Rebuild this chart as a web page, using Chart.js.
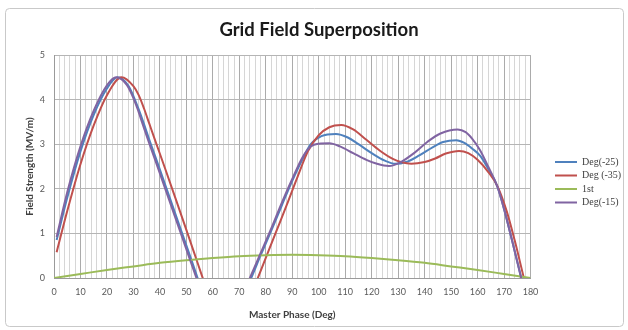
<!DOCTYPE html>
<html><head><meta charset="utf-8">
<script src="https://cdn.jsdelivr.net/npm/chart.js@4.4.1/dist/chart.umd.min.js"></script>
<style>html,body{margin:0;padding:0;background:#fff;}canvas{display:block;}</style>
</head><body>
<canvas id="c" width="628" height="330"></canvas>
<script>
// ---- data ----
const chartTitle = 'Grid Field Superposition';
const xAxisTitle = 'Master Phase (Deg)';
const yAxisTitle = 'Field Strength (MV/m)';
const seriesNames = ['Deg(-25)', 'Deg (-35)', '1st', 'Deg(-15)'];
const xTickLabels = [0,10,20,30,40,50,60,70,80,90,100,110,120,130,140,150,160,170,180];
const yTickLabels = [0,1,2,3,4,5];

const blueX = [1,5,10,15,20,24,28,30,32,34,36,40,44,48,52,55.5,null,73,74.5,78,82,86,90,94,97,101,106.5,111,115,120,125,129,133,138,143,147,152,155,158,161,164,167.5,170,173,176.5,178];
const blueY = [0.85,1.8,2.84,3.66,4.25,4.5,4.32,4.08,3.78,3.45,3.1,2.43,1.75,1.07,0.39,-0.22,null,-0.2,0,0.5,1.05,1.62,2.18,2.68,3.0,3.18,3.23,3.15,3.0,2.8,2.63,2.56,2.6,2.75,2.93,3.05,3.09,3.03,2.9,2.74,2.45,2.05,1.55,0.85,0,-0.35];

const redX = [1,5,10,15,20,25.5,30,32,34,36,38,42,46,50,54,56,57.5,null,75.5,77,80,84,88,92,96,100,104,108.5,113,118,123,128,131,135,140,144,148,153,156.5,160,164,167.5,171,174,177.5,179];
const redY = [0.58,1.5,2.55,3.42,4.1,4.5,4.3,4.1,3.8,3.46,3.12,2.45,1.77,1.08,0.38,0.03,-0.22,null,-0.2,0,0.45,1.05,1.65,2.27,2.85,3.2,3.38,3.43,3.33,3.1,2.86,2.67,2.6,2.56,2.6,2.68,2.79,2.85,2.8,2.65,2.38,2.06,1.5,0.85,0,-0.35];

const greenX = [0,10,20,30,40,50,60,70,80,90,100,110,120,130,140,150,160,170,180];
const greenY = [0,0.09,0.18,0.26,0.34,0.4,0.45,0.49,0.51,0.52,0.51,0.49,0.45,0.4,0.34,0.26,0.18,0.09,0];

const purpleX = [1,5,10,15,20,23.5,27.5,29.5,31.5,33.5,35.5,39.5,43.5,47.5,51.5,55,null,72.5,74,78,82,86,90,94,97,100,104,108,113,118,122,126.5,131,136,141,146,152.5,155.5,158,161,164,167.5,170,173,176.5,178];
const purpleY = [0.92,1.92,2.95,3.75,4.32,4.5,4.33,4.1,3.8,3.45,3.1,2.43,1.75,1.07,0.39,-0.2,null,-0.2,0,0.55,1.1,1.68,2.22,2.72,2.95,3.01,3.02,2.95,2.8,2.65,2.56,2.51,2.6,2.8,3.05,3.24,3.33,3.27,3.12,2.86,2.5,2.05,1.55,0.85,0,-0.35];

const colors = ['#4F81BD', '#C0504D', '#9BBB59', '#8064A2'];

function pts(xs, ys) { return xs.map((x, i) => ({x: x, y: ys[i]})); }

const font = 'Lato';

const frame = {
  id: 'frame',
  beforeDraw(chart) {
    const c = chart.ctx;
    c.save();
    c.fillStyle = '#fff';
    c.fillRect(0, 0, chart.width, chart.height);
    c.strokeStyle = '#c9c9c9';
    c.lineWidth = 1;
    c.beginPath();
    if (c.roundRect) c.roundRect(5.5, 8.5, 618, 318, 4); else c.rect(5.5, 8.5, 618, 318);
    c.stroke();
    c.restore();
  }
};
const legendWidth = {
  id: 'legendWidth',
  beforeLayout(chart) {
    const lg = chart.legend;
    if (lg && !lg._wrapped) {
      const orig = lg.fit;
      lg.fit = function () { orig.call(this); this.width = 76.5; };
      lg._wrapped = true;
    }
  }
};

const ds = [
  {label: seriesNames[0], data: pts(blueX, blueY), borderColor: colors[0], backgroundColor: colors[0], order: 4},
  {label: seriesNames[1], data: pts(redX, redY), borderColor: colors[1], backgroundColor: colors[1], order: 3},
  {label: seriesNames[2], data: pts(greenX, greenY), borderColor: colors[2], backgroundColor: colors[2], order: 2},
  {label: seriesNames[3], data: pts(purpleX, purpleY), borderColor: colors[3], backgroundColor: colors[3], order: 1}
].map(d => Object.assign(d, {borderWidth: 2, pointRadius: 0, cubicInterpolationMode: 'monotone', spanGaps: false}));

new Chart(document.getElementById('c'), {
  type: 'line',
  data: {datasets: ds},
  plugins: [frame, legendWidth],
  options: {
    responsive: false,
    animation: false,
    layout: {padding: {top: 10, left: 10, right: 0, bottom: 6}},
    plugins: {
      title: {display: true, text: chartTitle, color: '#1a1a1a', font: {family: font, size: 18.5, weight: 'bold', lineHeight: 1.1}, padding: {top: 10, bottom: 14.65}},
      legend: {
        position: 'right', align: 'center',
        title: {display: true, text: '', font: {size: 10, lineHeight: 1}, padding: {top: 0, bottom: 20.5}},
        labels: {
          sort: (a, b) => a.datasetIndex - b.datasetIndex,
          usePointStyle: true, pointStyle: 'line', pointStyleWidth: 22, boxHeight: 10, padding: 3.5, color: '#404040', font: {family: 'Liberation Serif', size: 10}}
      },
      tooltip: {enabled: false}
    },
    scales: {
      x: {
        type: 'linear', min: 0, max: 180,
        ticks: {stepSize: 2, autoSkip: false, maxRotation: 0, padding: 9, color: '#595959', font: {family: font, size: 9},
          callback: v => xTickLabels.includes(v) ? String(v) : ''},
        grid: {drawTicks: false, color: c => (c.tick && xTickLabels.includes(c.tick.value)) ? '#ababab' : '#d6d6d6'},
        border: {color: '#9a9a9a'},
        title: {display: true, text: xAxisTitle, color: '#404040', font: {family: font, size: 10, weight: 'bold'}, padding: {top: 0, bottom: 3}},
        afterFit: s => { s.height = 46; }
      },
      y: {
        min: 0, max: 5,
        ticks: {stepSize: 1, padding: 9, color: '#595959', font: {family: font, size: 9},
          callback: v => yTickLabels.includes(v) ? String(v) : ''},
        grid: {drawTicks: false, color: '#b5b5b5'},
        border: {color: '#9a9a9a'},
        title: {display: true, text: yAxisTitle, color: '#404040', font: {family: font, size: 10, weight: 'bold'}, padding: {top: 14, bottom: 0}},
        afterFit: s => { s.width = 44; }
      },
      yr: {
        position: 'right', display: true,
        grid: {display: false, drawTicks: false}, border: {display: false}, ticks: {display: false},
        afterFit: s => { s.width = 21; }
      }
    }
  }
});
</script>
</body></html>
